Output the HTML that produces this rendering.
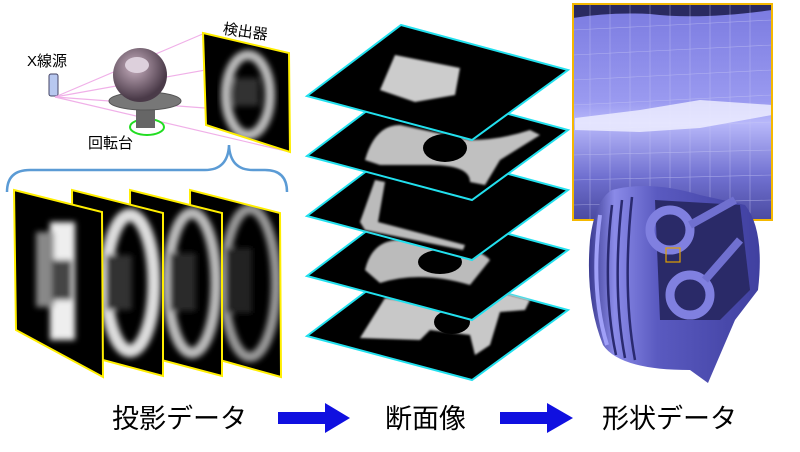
<!DOCTYPE html>
<html><head><meta charset="utf-8"><style>
html,body{margin:0;padding:0;background:#fff;}
svg{display:block;}
text{font-family:"Liberation Sans","Noto Sans CJK JP",sans-serif;}
</style></head><body>
<svg width="800" height="452" viewBox="0 0 800 452" xmlns="http://www.w3.org/2000/svg">
<defs>
<filter id="bl" x="-20%" y="-20%" width="140%" height="140%"><feGaussianBlur stdDeviation="3"/></filter>
<filter id="bl1"><feGaussianBlur stdDeviation="1"/></filter>
<radialGradient id="sph" cx="0.4" cy="0.35" r="0.6">
<stop offset="0" stop-color="#c8b0c0"/><stop offset="1" stop-color="#4a3a48"/>
</radialGradient>
<linearGradient id="mesh" x1="0" y1="0" x2="0" y2="1">
<stop offset="0" stop-color="#7a7ae0"/><stop offset="0.45" stop-color="#9a9af0"/><stop offset="0.55" stop-color="#b8b8fa"/><stop offset="0.8" stop-color="#7070d0"/><stop offset="1" stop-color="#4a4aa0"/>
</linearGradient>
<linearGradient id="pist" x1="0" y1="0" x2="1" y2="0">
<stop offset="0" stop-color="#3a3a90"/><stop offset="0.15" stop-color="#8a8ae8"/><stop offset="0.4" stop-color="#5a5ac0"/><stop offset="1" stop-color="#4040a0"/>
</linearGradient>
<clipPath id="c1"><polygon points="14,190 102,212 103,377 16,330"/></clipPath>
<clipPath id="c2"><polygon points="72,190 163,213 163,376 73,352"/></clipPath>
<clipPath id="c3"><polygon points="130,190 222,213 222,376 131,352"/></clipPath>
<clipPath id="c4"><polygon points="190,190 280,213 281,377 191,352"/></clipPath>
<clipPath id="cd"><polygon points="203,33 289,53 290,152 206,125"/></clipPath>
</defs>

<!-- source -->
<text x="27" y="66" font-size="15">X線源</text>
<rect x="49" y="74" width="9" height="22" rx="2" fill="#b8c8f0" stroke="#446" stroke-width="1"/>
<g stroke="#f0b0e8" stroke-width="1.2">
<line x1="55" y1="97" x2="205" y2="33"/>
<line x1="55" y1="97" x2="289" y2="55"/>
<line x1="55" y1="97" x2="205" y2="108"/>
<line x1="55" y1="97" x2="290" y2="152"/>
</g>
<ellipse cx="147" cy="127" rx="17" ry="8" fill="none" stroke="#22dd22" stroke-width="2"/>
<rect x="136" y="108" width="19" height="20" fill="#666"/>
<ellipse cx="145" cy="101" rx="36" ry="9" fill="#777" stroke="#555"/>
<circle cx="140" cy="75" r="27" fill="url(#sph)"/>
<ellipse cx="137" cy="65" rx="12" ry="8" fill="#ddd0dc"/>
<text x="88" y="148" font-size="15">回転台</text>
<text x="223" y="36" font-size="15" transform="rotate(8 240 30)">検出器</text>
<polygon points="203,33 289,53 290,152 206,125" fill="#000"/>
<g clip-path="url(#cd)" filter="url(#bl)">
<ellipse cx="248" cy="95" rx="22" ry="40" fill="none" stroke="#bbb" stroke-width="10"/>
<rect x="233" y="78" width="26" height="28" fill="#333"/>
</g>
<polygon points="203,33 289,53 290,152 206,125" fill="none" stroke="#ffee00" stroke-width="2"/>

<!-- brace -->
<path d="M7,192 Q7,170 30,170 L205,170 Q228,170 229,145 Q230,170 253,170 L265,170 Q287,170 287,192" fill="none" stroke="#5b9bd5" stroke-width="2.5"/>

<!-- projection panels back to front -->
<polygon points="190,190 280,213 281,377 191,352" fill="#000"/>
<g clip-path="url(#c4)"><g filter="url(#bl)">
<ellipse cx="250" cy="283" rx="26" ry="74" fill="none" stroke="#999" stroke-width="10"/>
<rect x="226" y="248" width="26" height="65" fill="#222"/></g></g>
<polygon points="190,190 280,213 281,377 191,352" fill="none" stroke="#ffee00" stroke-width="2"/>
<polygon points="130,190 222,213 222,376 131,352" fill="#000"/>
<g clip-path="url(#c3)"><g filter="url(#bl)">
<ellipse cx="192" cy="283" rx="24" ry="70" fill="none" stroke="#bbb" stroke-width="11"/>
<rect x="170" y="253" width="26" height="58" fill="#2a2a2a"/></g></g>
<polygon points="130,190 222,213 222,376 131,352" fill="none" stroke="#ffee00" stroke-width="2"/>
<polygon points="72,190 163,213 163,376 73,352" fill="#000"/>
<g clip-path="url(#c2)"><g filter="url(#bl)">
<ellipse cx="130" cy="283" rx="24" ry="68" fill="none" stroke="#ddd" stroke-width="13"/>
<rect x="106" y="255" width="26" height="55" fill="#333"/></g></g>
<polygon points="72,190 163,213 163,376 73,352" fill="none" stroke="#ffee00" stroke-width="2"/>
<polygon points="14,190 102,212 103,377 16,330" fill="#000"/>
<g clip-path="url(#c1)"><g filter="url(#bl)">
<rect x="50" y="222" width="25" height="118" fill="#eee"/>
<rect x="36" y="232" width="18" height="75" fill="#888"/>
<rect x="52" y="260" width="20" height="40" fill="#444"/></g></g>
<polygon points="14,190 102,212 103,377 16,330" fill="none" stroke="#ffee00" stroke-width="2"/>

<!-- slices -->
<g stroke="#22e0ee" stroke-width="2" fill="#000">
<polygon points="307,336 401,265 568,310 472,380"/>
<g filter="url(#bl1)" stroke="none" fill="#c8c8c8">
<path d="M360,338 L385,298 L440,305 L470,300 L500,292 L530,300 L525,310 L500,312 L490,345 L475,355 L470,335 L430,330 L420,340 Z"/>
</g>
<ellipse cx="452" cy="322" rx="18" ry="12" fill="#000" stroke="none"/>
<polygon points="307,276 401,205 568,250 472,320"/>
<g filter="url(#bl1)" stroke="none" fill="#bbb">
<path d="M365,270 Q372,240 400,240 L440,245 Q480,248 490,260 L470,285 Q420,270 380,283 Z"/>
</g>
<ellipse cx="440" cy="262" rx="22" ry="12" fill="#000" stroke="none"/>
<polygon points="307,216 401,145 568,190 472,260"/>
<path d="M360,222 L375,180 L385,182 L378,222 L465,245 L463,250 L365,230 Z" fill="#bbb" stroke="none" filter="url(#bl1)"/>
<polygon points="307,156 401,85 568,130 472,200"/>
<path d="M365,160 Q375,125 400,125 L470,140 Q500,140 530,130 L540,135 L500,160 L485,185 L470,182 Q470,165 430,165 L380,165 Z" fill="#c0c0c0" stroke="none" filter="url(#bl1)"/>
<ellipse cx="445" cy="148" rx="22" ry="14" fill="#000" stroke="none"/>
<polygon points="307,96 401,25 568,70 472,140"/>
<polygon points="380,90 395,55 460,68 455,95 415,102" fill="#ccc" stroke="none" filter="url(#bl1)"/>
</g>

<!-- shape data -->
<rect x="573" y="4" width="199" height="216" fill="url(#mesh)"/>
<path d="M573,4 L772,4 L772,10 Q700,20 650,14 Q610,12 573,18 Z" fill="#2a2a60"/>
<g stroke="#c8c8f4" stroke-width="0.6" opacity="0.6">
<path d="M573,30 L772,20 M573,55 L772,45 M573,80 L772,70 M573,105 L772,95 M573,130 L772,122 M573,155 L772,150 M573,180 L772,175 M573,205 L772,200"/>
<path d="M590,4 V220 M610,4 V220 M630,4 V220 M650,4 V220 M670,4 V220 M690,4 V220 M710,4 V220 M730,4 V220 M750,4 V220"/>
</g>
<polygon points="575,118 640,110 700,100 772,105 772,115 700,128 640,132 575,130" fill="#f0f0ff" opacity="0.8"/>
<rect x="573" y="4" width="199" height="216" fill="none" stroke="#f5b800" stroke-width="2"/>
<!-- piston -->
<path d="M612,190 Q650,180 700,195 L745,205 Q765,230 758,290 L735,320 L708,383 L690,370 Q620,370 603,345 Q585,300 590,240 Q595,200 612,190 Z" fill="url(#pist)"/>
<path d="M600,215 Q590,290 607,345" fill="none" stroke="#a0a0f8" stroke-width="4"/>
<path d="M612,205 Q602,290 616,355" fill="none" stroke="#2a2a70" stroke-width="2.5"/>
<path d="M622,200 Q612,290 625,358" fill="none" stroke="#2a2a70" stroke-width="2.5"/>
<path d="M632,197 Q622,290 635,360" fill="none" stroke="#2a2a70" stroke-width="2.5"/>
<path d="M655,200 L740,205 L750,290 L720,320 L660,320 Z" fill="#2a2a68"/>
<circle cx="670" cy="230" r="20" fill="none" stroke="#8080e0" stroke-width="9"/>
<circle cx="690" cy="295" r="20" fill="none" stroke="#8080e0" stroke-width="9"/>
<path d="M690,225 L735,200 M705,280 L740,240" stroke="#7070d0" stroke-width="8"/>
<rect x="666" y="248" width="14" height="14" fill="none" stroke="#e0a000" stroke-width="1.2"/>

<!-- bottom labels -->
<text x="112" y="428" font-size="27">投影データ</text>
<polygon points="278,412 325,412 325,403 350,418 325,433 325,424 278,424" fill="#1010e0"/>
<text x="385" y="428" font-size="27">断面像</text>
<polygon points="500,412 547,412 547,403 573,418 547,433 547,424 500,424" fill="#1010e0"/>
<text x="602" y="428" font-size="27">形状データ</text>
</svg>
</body></html>
